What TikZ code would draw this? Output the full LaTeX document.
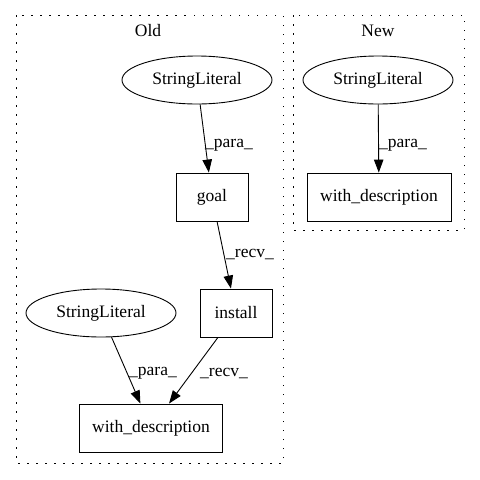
\documentclass[tikz,border=0pt]{standalone}
\usepackage{fontspec}
\setmainfont{Liberation Serif}
\usepackage{tikz}
\usetikzlibrary{shapes,shapes.geometric,arrows.meta,positioning,calc}

\begin{document}
\begin{tikzpicture}[x=1pt, y=-1pt,
    every node/.style={font=\fontsize{17.5}{21}\selectfont},
    lit/.style={draw, ellipse, line width=0.9pt, minimum width=150pt, minimum height=48pt, inner sep=0pt},
    op/.style={draw, rectangle, line width=0.9pt, minimum height=48pt, inner sep=0pt},
    cluster/.style={line width=0.9pt, dash pattern=on 1.5pt off 7.5pt},
    edge/.style={-{Triangle[length=13pt,width=9.5pt]}, line width=0.9pt},
    lbl/.style={inner sep=0pt}]
    \useasboundingbox (0,0) rectangle (480,480);

    % Clusters
    \draw[cluster] (16,15) rectangle (283,463);
    \draw[cluster] (293,15) rectangle (464,230);
    \node (old) at (148,31) {Old};
    \node (new) at (378,31) {New};

    % Old version
    \node[lit] (lit1) at (197,80) {StringLiteral};
    \node[op, minimum width=72pt] (goal) at (212,197) {goal};
    \node[op, minimum width=72pt] (install) at (236,313) {install};
    \node[lit] (lit2) at (101,313) {StringLiteral};
    \node[op, minimum width=143pt] (desc1) at (151,428) {with\_description};

    \draw[edge] (lit1) -- (goal);
    \draw[edge] (goal) -- (install);
    \draw[edge] (lit2) -- (desc1);
    \draw[edge] (install) -- (desc1);

    \node[lbl] (l1) at (229,145) {\_para\_};
    \node[lbl] (l2) at (250,255) {\_recv\_};
    \node[lbl] (l3) at (153,373) {\_para\_};
    \node[lbl] (l4) at (224,373) {\_recv\_};

    % New version
    \node[lit] (lit3) at (378,80) {StringLiteral};
    \node[op, minimum width=144pt] (desc2) at (379,197) {with\_description};
    \draw[edge] (lit3) -- (desc2);
    \node[lbl] (l5) at (403,145) {\_para\_};
\end{tikzpicture}
\end{document}
